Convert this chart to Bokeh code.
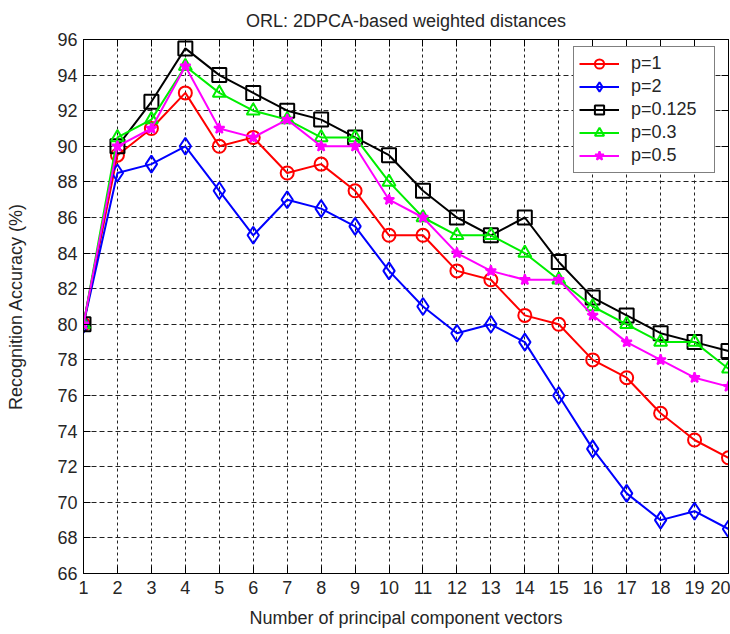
from bokeh.plotting import figure
from bokeh.models import FixedTicker, LinearAxis, Legend, LegendItem, Range1d, CustomJSTickFormatter
from bokeh.embed import file_html
from bokeh.resources import INLINE

x_vals = list(range(1, 21))
p1 = [80, 89.5, 91, 93, 90, 90.5, 88.5, 89, 87.5, 85, 85, 83, 82.5, 80.5, 80, 78, 77, 75, 73.5, 72.5]
p2 = [80, 88.5, 89, 90, 87.5, 85, 87, 86.5, 85.5, 83, 81, 79.5, 80, 79, 76, 73, 70.5, 69, 69.5, 68.5]
p0125 = [80, 90, 92.5, 95.5, 94, 93, 92, 91.5, 90.5, 89.5, 87.5, 86, 85, 86, 83.5, 81.5, 80.5, 79.5, 79, 78.5]
p03 = [80, 90.5, 91.5, 94.5, 93, 92, 91.5, 90.5, 90.5, 88, 86, 85, 85, 84, 82.5, 81, 80, 79, 79, 77.5]
p05 = [80, 90, 91, 94.5, 91, 90.5, 91.5, 90, 90, 87, 86, 84, 83, 82.5, 82.5, 80.5, 79, 78, 77, 76.5]
y_ticks = list(range(66, 97, 2))
labels = ["p=1", "p=2", "p=0.125", "p=0.3", "p=0.5"]

FONT = "Liberation Sans"
TXT = "#262626"

p = figure(width=730, height=632, output_backend="svg", toolbar_location=None,
           x_range=Range1d(1, 20), y_range=Range1d(66, 96),
           title="ORL: 2DPCA-based weighted distances",
           min_border_left=83, min_border_right=2, min_border_top=38, min_border_bottom=59)

p.title.align = "center"
p.title.text_font = FONT
p.title.text_font_size = "18px"
p.title.text_font_style = "normal"
p.title.text_color = TXT
p.title.offset = -6
p.title.standoff = 17

p.outline_line_color = "black"
p.outline_line_width = 1

p.xaxis.ticker = FixedTicker(ticks=x_vals)
p.yaxis.ticker = FixedTicker(ticks=y_ticks)
p.xaxis.axis_label = "Number of principal component vectors"
p.yaxis.axis_label = "Recognition Accuracy (%)"
for ax in [p.xaxis[0], p.yaxis[0]]:
    ax.axis_label_text_font = FONT
    ax.axis_label_text_font_size = "18px"
    ax.axis_label_text_font_style = "normal"
    ax.axis_label_text_color = TXT
    ax.major_label_text_font = FONT
    ax.major_label_text_font_size = "18px"
    ax.major_label_text_color = TXT
    ax.major_tick_in = 7
    ax.major_tick_out = 0
    ax.minor_tick_line_color = None
    ax.axis_line_color = "black"
    ax.major_tick_line_color = "black"
p.xaxis.axis_label_standoff = 11
p.yaxis.axis_label_standoff = 28
p.xaxis.major_label_standoff = 7
p.yaxis.major_label_standoff = 6

# box ticks on top and right (no labels)
blank = CustomJSTickFormatter(code="return ''")
ax_top = LinearAxis(ticker=FixedTicker(ticks=x_vals), formatter=blank,
                    major_tick_in=7, major_tick_out=0, minor_tick_line_color=None,
                    major_label_standoff=0)
ax_right = LinearAxis(ticker=FixedTicker(ticks=y_ticks), formatter=blank,
                      major_tick_in=7, major_tick_out=0, minor_tick_line_color=None,
                      major_label_standoff=0)
p.add_layout(ax_top, "above")
p.add_layout(ax_right, "right")

p.xgrid.ticker = FixedTicker(ticks=x_vals)
p.ygrid.ticker = FixedTicker(ticks=y_ticks)
p.xgrid.grid_line_dash = "3 3"
p.ygrid.grid_line_dash = "5 3"
for g in [p.xgrid[0], p.ygrid[0]]:
    g.grid_line_color = "#222222"
    g.grid_line_width = 1
    g.grid_line_alpha = 1

items = []
series = [
    (p1, "red", "circle", 13, False),
    (p2, "blue", "diamond", 17, False),
    (p0125, "black", "square", 14, False),
    (p03, "#00ee00", "triangle", 13, False),
    (p05, "magenta", "star", 11, True),
]
for (ys, col, mk, sz, filled), lab in zip(series, labels):
    r1 = p.line(x_vals, ys, line_color=col, line_width=2)
    r2 = p.scatter(x_vals, ys, marker=mk, size=sz, line_color=col, line_width=2,
                   fill_color=col if filled else None)
    items.append(LegendItem(label=lab, renderers=[r1, r2]))

legend = Legend(items=items, location=(490, 400))
legend.label_text_font = FONT
legend.label_text_font_size = "18px"
legend.label_text_color = TXT
legend.border_line_color = "black"
legend.border_line_width = 1
legend.background_fill_color = "white"
legend.background_fill_alpha = 1
legend.glyph_width = 40
legend.glyph_height = 23
legend.label_height = 23
legend.label_width = 78
legend.spacing = 0
legend.padding = 5
legend.label_standoff = 12
legend.margin = 0
p.add_layout(legend, "center")

open("out.html", "w").write(file_html(p, INLINE))
